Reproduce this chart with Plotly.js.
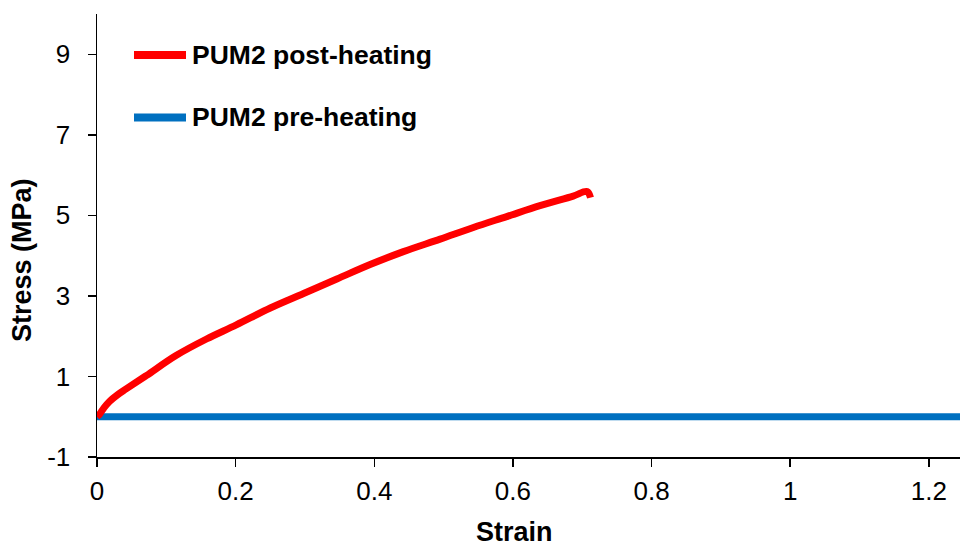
<!DOCTYPE html>
<html>
<head>
<meta charset="utf-8">
<script src="https://cdn.plot.ly/plotly-3.0.1.min.js"></script>
<style>
  html, body { margin: 0; padding: 0; background: #ffffff; }
  #chart { width: 960px; height: 548px; }
</style>
</head>
<body>
<div id="chart"></div>
<script>
// ---- Data ----
const postStrain = [0.000, 0.004, 0.010, 0.018, 0.030, 0.042, 0.071, 0.114, 0.158, 0.201, 0.250, 0.298, 0.346, 0.394, 0.442, 0.495, 0.543, 0.591, 0.639, 0.687, 0.707, 0.712];
const postStress = [0.00, 0.07, 0.22, 0.38, 0.55, 0.69, 1.02, 1.52, 1.93, 2.28, 2.70, 3.06, 3.42, 3.78, 4.10, 4.41, 4.70, 4.97, 5.24, 5.48, 5.59, 5.44];

const preStrain = [0.000, 0.25, 0.50, 0.75, 1.00, 1.30];
const preStress = [0.00, 0.00, 0.00, 0.00, 0.00, 0.00];

const seriesNames = ["PUM2 post-heating", "PUM2 pre-heating"];
const seriesColors = ["#FF0000", "#0070C0"];

const xTickVals = [0, 0.2, 0.4, 0.6, 0.8, 1, 1.2];
const yTickVals = [-1, 1, 3, 5, 7, 9];

const xTitle = "Strain";
const yTitle = "Stress (MPa)";

// ---- Layout geometry (pixels) ----
const W = 960, H = 548;
const mL = 97, mR = 0, mT = 14, mB = 91;
const pw = W - mL - mR, ph = H - mT - mB;
const px2x = p => (p - mL) / pw;
const py2y = p => (H - mB - p) / ph;

const font = "Liberation Sans, Arial, sans-serif";

const traces = [
  {
    x: preStrain, y: preStress, name: seriesNames[1], type: "scatter", mode: "lines",
    line: { color: seriesColors[1], width: 7 }, showlegend: false, hoverinfo: "x+y"
  },
  {
    x: postStrain, y: postStress, name: seriesNames[0], type: "scatter", mode: "lines",
    line: { color: seriesColors[0], width: 7, shape: "spline", smoothing: 1 }, showlegend: false, hoverinfo: "x+y"
  }
];

const legendRows = [55, 117.5];
const shapes = [];
const annotations = [];
seriesNames.forEach((nm, i) => {
  shapes.push({
    type: "line", xref: "paper", yref: "paper",
    x0: px2x(134), x1: px2x(186), y0: py2y(legendRows[i]), y1: py2y(legendRows[i]),
    line: { color: seriesColors[i], width: 8 }
  });
  annotations.push({
    xref: "paper", yref: "paper", x: px2x(190), y: py2y(legendRows[i]),
    xanchor: "left", yanchor: "middle", showarrow: false, text: "<b>" + nm + "</b>",
    font: { family: font, size: 26.5, color: "#000000" }
  });
});
annotations.push({
  xref: "paper", yref: "paper", x: px2x(514), y: py2y(532),
  xanchor: "center", yanchor: "middle", showarrow: false, text: "<b>" + xTitle + "</b>",
  font: { family: font, size: 27, color: "#000000" }
});
annotations.push({
  xref: "paper", yref: "paper", x: px2x(22), y: py2y(260),
  xanchor: "center", yanchor: "middle", showarrow: false, textangle: -90, text: "<b>" + yTitle + "</b>",
  font: { family: font, size: 27, color: "#000000" }
});

const layout = {
  width: W, height: H,
  margin: { l: mL, r: mR, t: mT, b: mB, pad: 0 },
  paper_bgcolor: "#ffffff", plot_bgcolor: "#ffffff",
  showlegend: false,
  font: { family: font, size: 26, color: "#000000" },
  xaxis: {
    range: [0, 1.245], tickvals: xTickVals, ticktext: xTickVals.map(String),
    showgrid: false, zeroline: false, showline: true, linecolor: "#000000", linewidth: 1.5,
    ticks: "outside", ticklen: 8, tickwidth: 1.5, tickcolor: "#000000",
    tickfont: { family: font, size: 26, color: "#000000" }, ticklabelstandoff: 2
  },
  yaxis: {
    range: [-1, 10], tickvals: yTickVals, ticktext: yTickVals.map(String),
    showgrid: false, zeroline: false, showline: true, linecolor: "#000000", linewidth: 1.5,
    ticks: "outside", ticklen: 8, tickwidth: 1.5, tickcolor: "#000000",
    tickfont: { family: font, size: 26, color: "#000000" }, ticklabelstandoff: 12
  },
  shapes: shapes,
  annotations: annotations
};

Plotly.newPlot("chart", traces, layout, { staticPlot: true, displayModeBar: false });
</script>
</body>
</html>
